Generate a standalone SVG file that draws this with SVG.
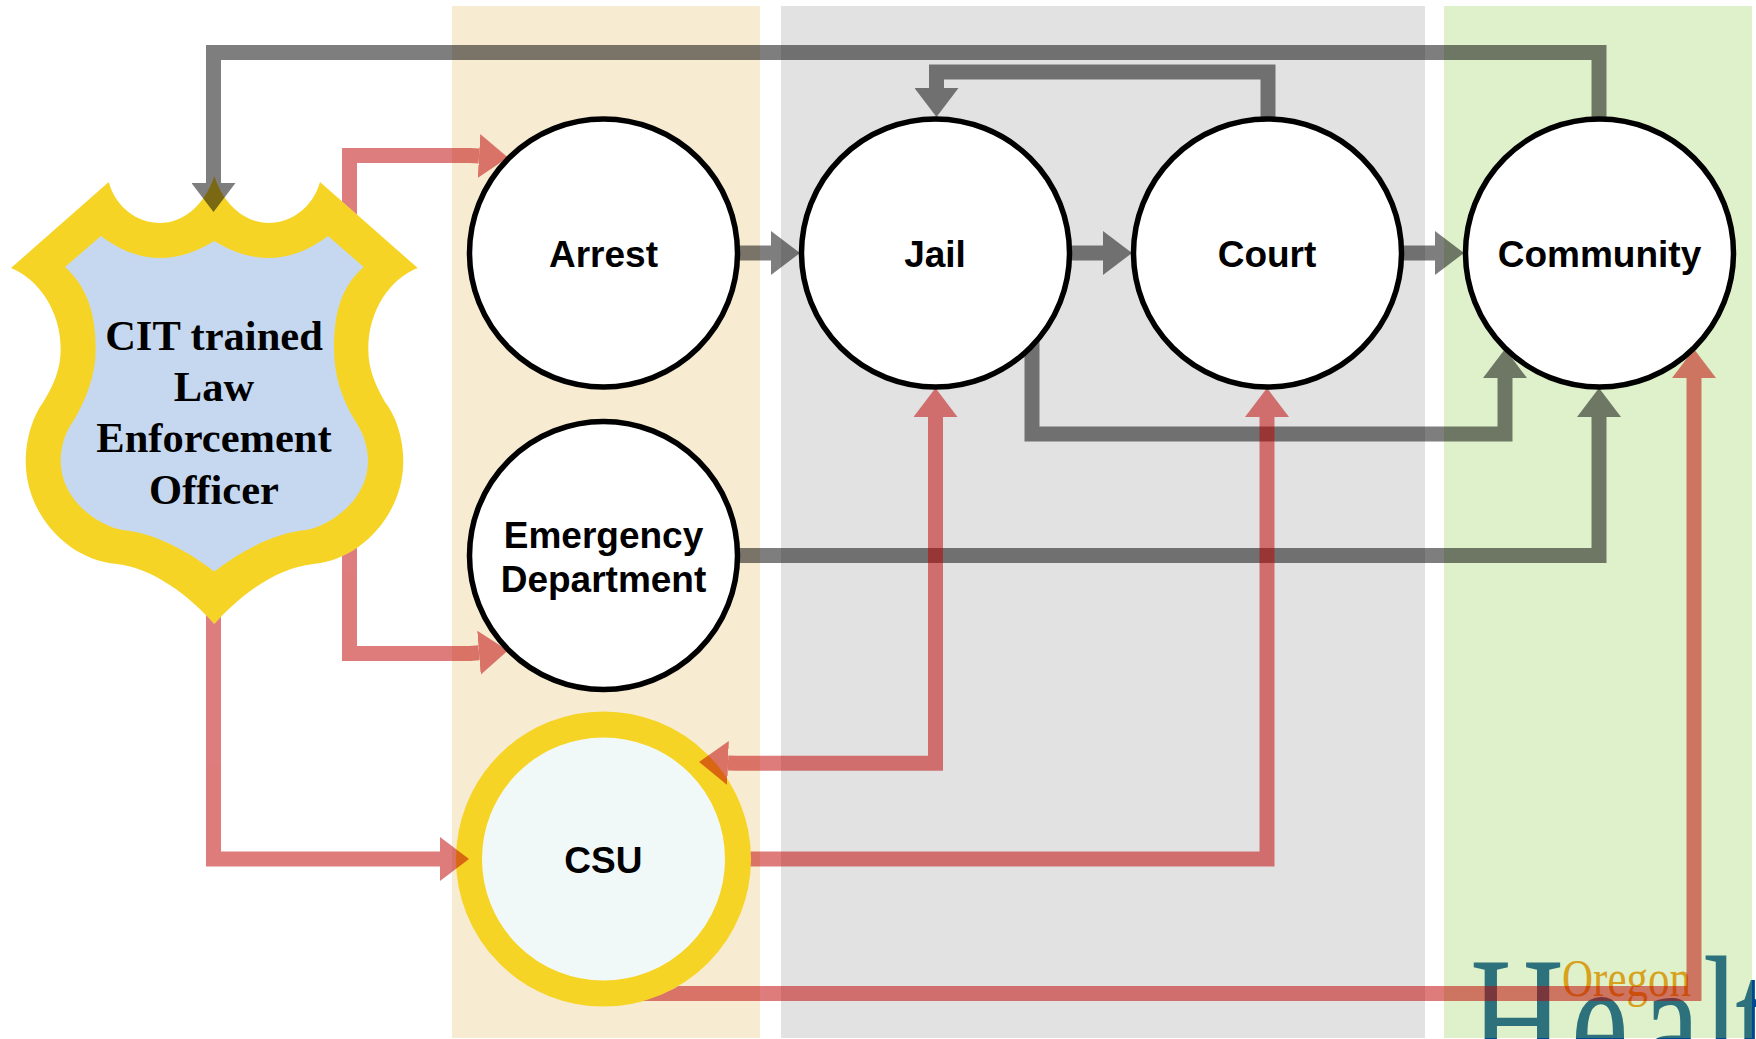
<svg xmlns="http://www.w3.org/2000/svg" width="1756" height="1039" viewBox="0 0 1756 1039">
<style>
.sans{font-family:"Liberation Sans",Arial,sans-serif;font-weight:700;font-size:37px;text-anchor:middle;fill:#000}
.serif{font-family:"Liberation Serif","Times New Roman",serif;font-weight:700;font-size:42.500px;text-anchor:middle;fill:#000}
.c{fill:#fff;stroke:#000;stroke-width:5.500}
.g{opacity:.5}
.r{opacity:.51}
.g path.l{fill:none;stroke:#000;stroke-width:15}
.r path.l{fill:none;stroke:#bf0000;stroke-width:15}
</style>
<defs>
<marker id="hg" markerUnits="userSpaceOnUse" markerWidth="29" markerHeight="44" refX="0" refY="22" orient="auto-start-reverse" viewBox="0 0 29 44"><path d="M0 0L29 22L0 44Z" fill="#000"/></marker>
<marker id="hr" markerUnits="userSpaceOnUse" markerWidth="29" markerHeight="44" refX="0" refY="22" orient="auto-start-reverse" viewBox="0 0 29 44"><path d="M0 0L29 22L0 44Z" fill="#bf0000"/></marker>
<clipPath id="offShield"><path clip-rule="evenodd" d="M0 0H1756V1039H0Z M108.700 182C116 208 138 223 160 223C183 223 205 205 214.300 176C223.600 205 245.600 223 268.600 223C290.600 223 312.600 208 320 182L417.700 268C390 279 368.300 310 368.300 349C368.300 370 376 386 385 402C396 416 403.300 438 403.300 461C403.300 515 360 560 313.300 564C276 568 240 595 214.300 624C188.600 595 152.600 568 116.700 564C68.600 560 25.700 515 25.700 461C25.700 438 33 416 43.300 402C53 386 60.700 370 60.700 349C60.700 310 38 279 11 268Z"/></clipPath>
<clipPath id="offCsu"><path clip-rule="evenodd" d="M0 0H1756V1039H0Z M456 859A147.500 147.500 0 1 0 751 859A147.500 147.500 0 1 0 456 859Z"/></clipPath>
</defs>

<g id="bands">
<rect x="452" y="6" width="308" height="1032" fill="#f7ebd2"/>
<rect x="781" y="6" width="644" height="1032" fill="#e2e2e2"/>
</g>
<g id="logo">
<text transform="scale(.7 1)" x="2100 2244 2346 2433 2479" y="1085" font-family="'Liberation Serif','Times New Roman',serif" font-size="186" fill="#00488f">Healt</text>
<text x="1562" y="996" font-family="'Liberation Serif','Times New Roman',serif" font-size="52" textLength="129" lengthAdjust="spacingAndGlyphs" fill="#f78d08">Oregon</text>
</g>
<rect id="community-band" x="1444" y="6" width="308" height="1032" fill="#92d050" opacity=".3"/>

<g id="officer">
<path fill="#f6d426" d="M108.700 182C116 208 138 223 160 223C183 223 205 205 214.300 176C223.600 205 245.600 223 268.600 223C290.600 223 312.600 208 320 182L417.700 268C390 279 368.300 310 368.300 349C368.300 370 376 386 385 402C396 416 403.300 438 403.300 461C403.300 515 360 560 313.300 564C276 568 240 595 214.300 624C188.600 595 152.600 568 116.700 564C68.600 560 25.700 515 25.700 461C25.700 438 33 416 43.300 402C53 386 60.700 370 60.700 349C60.700 310 38 279 11 268Z"/>
<path fill="#c6d8f0" d="M101 236C118 249 138 258 160 258C180 258 198 251 214.300 241C230.600 251 248.600 258 268.600 258C290.600 258 311 249 328 236L363.700 267C338 289 334 320 334 349C334 375 342 400 355.300 421C362 431 368 445 368 461C368 500 330 526 306 530C275 533 242 550 214.300 571.500C186.600 550 153.600 533 123 530C98 526 60.700 500 60.700 461C60.700 445 66 431 73.300 421C86 400 95.700 375 95.700 349C95.700 320 90 289 65 267Z"/>
<text class="serif" x="214" y="349.500">CIT trained</text>
<text class="serif" x="214" y="400.500">Law</text>
<text class="serif" x="214" y="452">Enforcement</text>
<text class="serif" x="214" y="503.500">Officer</text>
</g>
<g id="csu">
<circle cx="603.500" cy="859" r="134.500" fill="#f1f9f8" stroke="#f6d426" stroke-width="26"/>
<text class="sans" x="603.300" y="873">CSU</text>
</g>

<g id="connectors">
<g class="g"><path class="l" marker-end="url(#hg)" d="M1599 120V52.500H213.500V183"/></g>
<g class="g"><path class="l" marker-end="url(#hg)" d="M1268 120V72H936.500V88"/></g>
<g class="g"><path class="l" marker-end="url(#hg)" d="M737 253H771"/></g>
<g class="g"><path class="l" marker-end="url(#hg)" d="M1069 253H1103"/></g>
<g class="g"><path class="l" marker-end="url(#hg)" d="M1401 253H1435"/></g>
<g class="g"><path class="l" marker-end="url(#hg)" d="M1032 340V434H1505V378"/></g>
<g class="g"><path class="l" marker-end="url(#hg)" d="M735 555.500H1599V417"/></g>
<g class="r" clip-path="url(#offShield)"><path class="l" marker-end="url(#hr)" d="M349.500 300V155.500H470L479 156"/></g>
<g class="r" clip-path="url(#offShield)"><path class="l" marker-end="url(#hr)" d="M349.500 500V653.500H470L479 652.800"/></g>
<g class="r" clip-path="url(#offShield)"><path class="l" marker-end="url(#hr)" d="M213.500 600V859H440"/></g>
<g class="r"><path class="l" marker-start="url(#hr)" marker-end="url(#hr)" d="M935.500 417V763.300H736L728 763"/></g>
<g class="r" clip-path="url(#offCsu)"><path class="l" marker-end="url(#hr)" d="M740 859H1267V417"/></g>
<g class="r" clip-path="url(#offCsu)"><path class="l" marker-end="url(#hr)" d="M640 993.500H1694V378"/></g>
</g>

<g id="arrest"><circle class="c" cx="603.500" cy="253" r="134"/><text class="sans" x="603.500" y="266.500">Arrest</text></g>
<g id="jail"><circle class="c" cx="935.500" cy="253" r="134"/><text class="sans" x="935" y="266.500">Jail</text></g>
<g id="court"><circle class="c" cx="1267.500" cy="253" r="134"/><text class="sans" x="1267" y="266.500">Court</text></g>
<g id="community"><circle class="c" cx="1599.500" cy="253" r="134"/><text class="sans" x="1599.500" y="266.500">Community</text></g>
<g id="emergency"><circle class="c" cx="603.500" cy="555.500" r="134"/><text class="sans" x="603.500" y="548">Emergency</text><text class="sans" x="603.500" y="592">Department</text></g>
</svg>
